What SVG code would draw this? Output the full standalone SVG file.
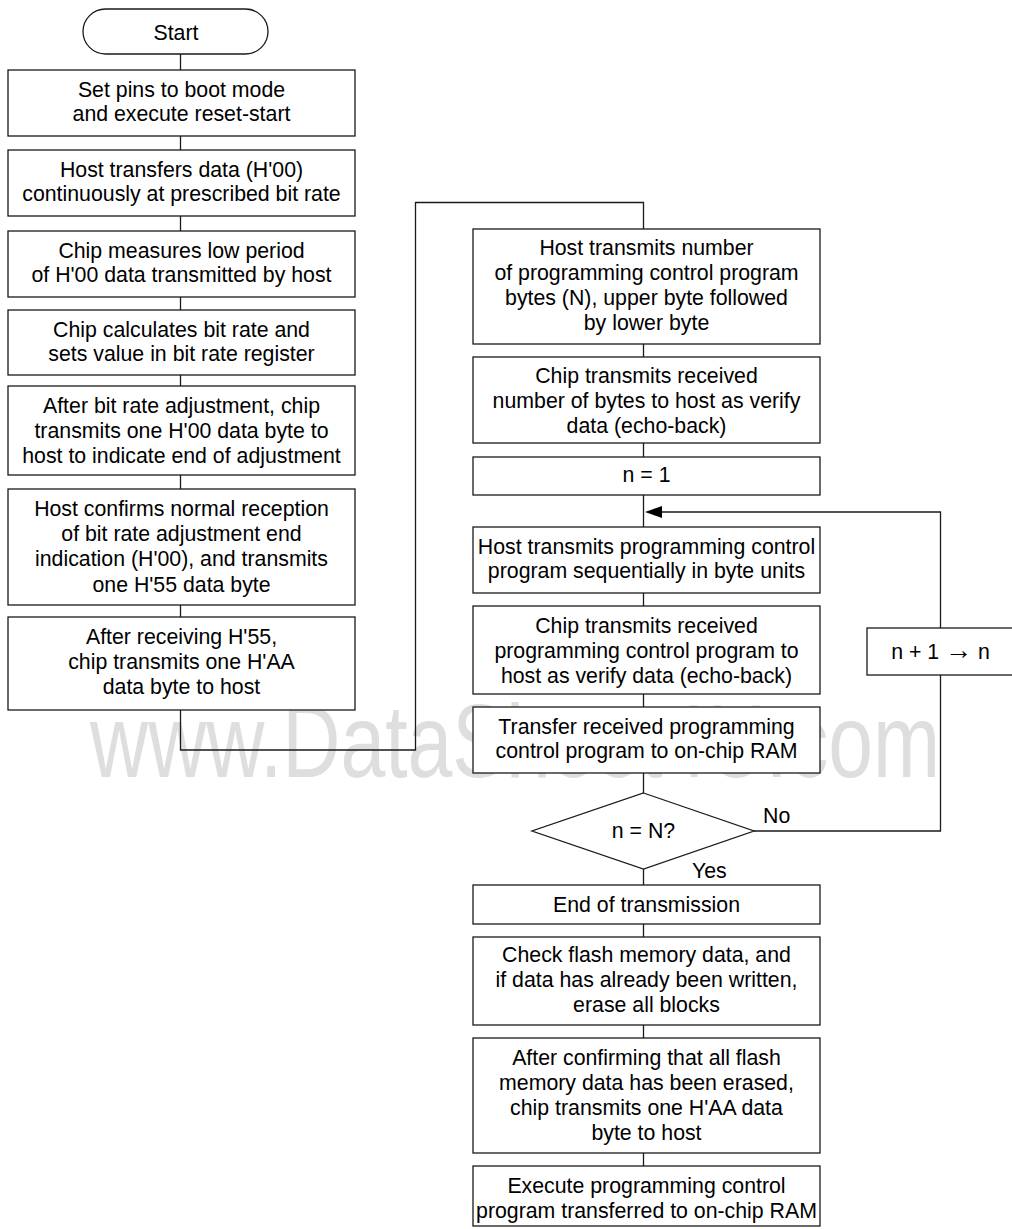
<svg xmlns="http://www.w3.org/2000/svg" width="1012" height="1229" viewBox="0 0 1012 1229">
<style>
.box{fill:#fff;stroke:#1a1a1a;stroke-width:1.3}
.t{font-family:"Liberation Sans",Arial,sans-serif;font-size:21.3px;fill:#000;text-anchor:middle}
.wire{fill:none;stroke:#1a1a1a;stroke-width:1.3}
.lbl{font-family:"Liberation Sans",Arial,sans-serif;font-size:21.3px;fill:#000}
.wm{font-family:"Liberation Sans",Arial,sans-serif;font-size:104px;fill:#dedede}
.sym{font-size:27px}
</style>
<rect width="1012" height="1229" fill="#fff"/>
<g id="watermark">
<text class="wm" x="90" y="777" textLength="850" lengthAdjust="spacingAndGlyphs">www.DataSheet4U.com</text>
</g>
<g id="connectors">
<path class="wire" d="M180.5,54 V70 M180.5,136 V150 M180.5,216 V231 M180.5,297 V310 M180.5,375 V386 M180.5,475 V489 M180.5,605 V617"/>
<path class="wire" d="M180.5,710 V750 H415.5 V202.5 H643.5 V229"/>
<path class="wire" d="M643.5,344 V357 M643.5,443 V457 M643.5,495 V527 M643.5,593 V606 M643.5,694 V707 M643.5,773 V793 M643.5,869 V885 M643.5,924 V937 M643.5,1025 V1038 M643.5,1153 V1166"/>
<path class="wire" d="M754,831 H940.5 V512 H662"/>
<path d="M645,512 L662,506 L662,518 Z" fill="#000"/>
<text class="lbl" x="763" y="823">No</text>
<text class="lbl" x="692" y="878">Yes</text>
</g>
<g id="start">
<rect class="box" x="83" y="9" width="185" height="45" rx="22.5" ry="22.5"/>
<text class="t" x="176" y="40">Start</text>
</g>
<g id="n1">
<rect class="box" x="8" y="70" width="347" height="66"/>
<text class="t" x="181.5" y="97">Set pins to boot mode</text>
<text class="t" x="181.5" y="121">and execute reset-start</text>
</g>
<g id="n2">
<rect class="box" x="8" y="150" width="347" height="66"/>
<text class="t" x="181.5" y="177">Host transfers data (H'00)</text>
<text class="t" x="181.5" y="201">continuously at prescribed bit rate</text>
</g>
<g id="n3">
<rect class="box" x="8" y="231" width="347" height="66"/>
<text class="t" x="181.5" y="258">Chip measures low period</text>
<text class="t" x="181.5" y="282">of H'00 data transmitted by host</text>
</g>
<g id="n4">
<rect class="box" x="8" y="310" width="347" height="65"/>
<text class="t" x="181.5" y="337">Chip calculates bit rate and</text>
<text class="t" x="181.5" y="361">sets value in bit rate register</text>
</g>
<g id="n5">
<rect class="box" x="8" y="386" width="347" height="89"/>
<text class="t" x="181.5" y="413">After bit rate adjustment, chip</text>
<text class="t" x="181.5" y="438">transmits one H'00 data byte to</text>
<text class="t" x="181.5" y="463">host to indicate end of adjustment</text>
</g>
<g id="n6">
<rect class="box" x="8" y="489" width="347" height="116"/>
<text class="t" x="181.5" y="516">Host confirms normal reception</text>
<text class="t" x="181.5" y="541">of bit rate adjustment end</text>
<text class="t" x="181.5" y="566">indication (H'00), and transmits</text>
<text class="t" x="181.5" y="592">one H'55 data byte</text>
</g>
<g id="n7">
<rect class="box" x="8" y="617" width="347" height="93"/>
<text class="t" x="181.5" y="644">After receiving H'55,</text>
<text class="t" x="181.5" y="669">chip transmits one H'AA</text>
<text class="t" x="181.5" y="694">data byte to host</text>
</g>
<g id="r1">
<rect class="box" x="473" y="229" width="347" height="115"/>
<text class="t" x="646.5" y="255">Host transmits number</text>
<text class="t" x="646.5" y="280">of programming control program</text>
<text class="t" x="646.5" y="305">bytes (N), upper byte followed</text>
<text class="t" x="646.5" y="330">by lower byte</text>
</g>
<g id="r2">
<rect class="box" x="473" y="357" width="347" height="86"/>
<text class="t" x="646.5" y="383">Chip transmits received</text>
<text class="t" x="646.5" y="408">number of bytes to host as verify</text>
<text class="t" x="646.5" y="433">data (echo-back)</text>
</g>
<g id="r3">
<rect class="box" x="473" y="457" width="347" height="38"/>
<text class="t" x="646.5" y="482">n = 1</text>
</g>
<g id="r4">
<rect class="box" x="473" y="527" width="347" height="66"/>
<text class="t" x="646.5" y="554">Host transmits programming control</text>
<text class="t" x="646.5" y="578">program sequentially in byte units</text>
</g>
<g id="r5">
<rect class="box" x="473" y="606" width="347" height="88"/>
<text class="t" x="646.5" y="633">Chip transmits received</text>
<text class="t" x="646.5" y="658">programming control program to</text>
<text class="t" x="646.5" y="683">host as verify data (echo-back)</text>
</g>
<g id="r6">
<rect class="box" x="473" y="707" width="347" height="66"/>
<text class="t" x="646.5" y="734">Transfer received programming</text>
<text class="t" x="646.5" y="758">control program to on-chip RAM</text>
</g>
<g id="decision">
<polygon class="box" points="643.5,793 754,831 643.5,869 532,831"/>
<text class="t" x="643.5" y="838">n = N?</text>
</g>
<g id="inc">
<rect class="box" x="867" y="628" width="148" height="47"/>
<text class="t" x="940.5" y="659">n + 1 <tspan class="sym">→</tspan> n</text>
</g>
<g id="r7">
<rect class="box" x="473" y="885" width="347" height="39"/>
<text class="t" x="646.5" y="912">End of transmission</text>
</g>
<g id="r8">
<rect class="box" x="473" y="937" width="347" height="88"/>
<text class="t" x="646.5" y="962">Check flash memory data, and</text>
<text class="t" x="646.5" y="987">if data has already been written,</text>
<text class="t" x="646.5" y="1012">erase all blocks</text>
</g>
<g id="r9">
<rect class="box" x="473" y="1038" width="347" height="115"/>
<text class="t" x="646.5" y="1065">After confirming that all flash</text>
<text class="t" x="646.5" y="1090">memory data has been erased,</text>
<text class="t" x="646.5" y="1115">chip transmits one H'AA data</text>
<text class="t" x="646.5" y="1140">byte to host</text>
</g>
<g id="r10">
<rect class="box" x="473" y="1166" width="347" height="60"/>
<text class="t" x="646.5" y="1193">Execute programming control</text>
<text class="t" x="646.5" y="1218">program transferred to on-chip RAM</text>
</g>
</svg>
